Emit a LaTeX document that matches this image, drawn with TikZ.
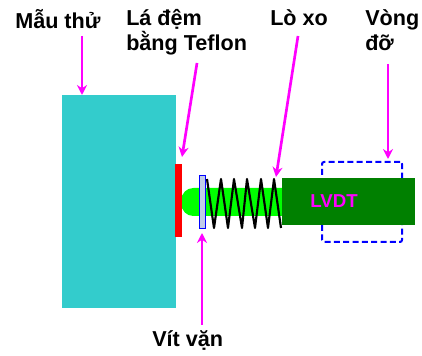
\documentclass[tikz,border=0pt]{standalone}
\usepackage{fontspec}
\setmainfont{Liberation Sans}
\usetikzlibrary{arrows.meta}
\definecolor{mauthu}{HTML}{33CCCC}
\definecolor{lvdtgreen}{HTML}{008000}
\definecolor{vitblue}{HTML}{C0CCE8}
\definecolor{callpink}{HTML}{FF00FF}
\definecolor{nosegreen}{HTML}{00FF00}
\definecolor{ringblue}{HTML}{0000FF}
\definecolor{padred}{HTML}{FF0000}
\tikzset{
  part/.style={inner sep=0pt, outer sep=0pt},
  callout/.style={draw=callpink, line width=2pt, -{Stealth[length=7.5pt,width=7.5pt]}},
  label/.style={font=\bfseries\fontsize{16.2}{18.75}\selectfont, align=left, inner sep=0pt, anchor=north west}
}
\begin{document}
\begin{tikzpicture}[x=0.75pt, y=-0.75pt]
\useasboundingbox (0,0) rectangle (422,356);

\node[part, fill=mauthu, minimum width=85.5pt, minimum height=159.75pt] (block) at (119,201.5) {};
\node[part, fill=nosegreen, rounded corners=9pt, minimum width=85pt, minimum height=21pt] (nose) at (238,202) {};
\node[part, fill=padred, minimum width=5.25pt, minimum height=54.75pt] (pad) at (178.5,200.5) {};
\node[part, draw=ringblue, line width=1pt, fill=vitblue, minimum width=4.5pt, minimum height=40pt] (screw) at (202.5,202) {};

\node[part, draw=ringblue, dash pattern=on 4.5pt off 2.5pt, line width=1.5pt, rounded corners=1.5pt, minimum width=60pt, minimum height=60pt] (ring) at (362,202) {};
\node[part, fill=lvdtgreen, minimum width=99.75pt, minimum height=35.25pt] (lvdt) at (348.5,201.5) {};
\node[part, font=\bfseries\fontsize{14}{16}\selectfont, text=callpink] (lvdtlabel) at (334,201) {LVDT};

% spring
\draw[line width=1.6pt, line join=round] (207,179) -- (214,228) -- (221,179) -- (228,228) -- (234,179) -- (242,228)
  -- (247,179) -- (255,228) -- (261,179) -- (268,228) -- (274,179) -- (281,228);

\node[label] (mau) at (15,9) {Mẫu thử};
\node[label] (dem) at (126,9) {Lá đệm\\bằng Teflon};
\node[label] (lo) at (270,9) {Lò xo};
\node[label] (vong) at (365,9) {Vòng\\đỡ};
\node[label] (vit) at (152,330) {Vít vặn};

\coordinate (maustart) at (82,36);
\coordinate (mautip) at (82,95);
\coordinate (demstart) at (197,63);
\coordinate (demtip) at (182,157);
\coordinate (lostart) at (298,36);
\coordinate (lotip) at (276,177);
\coordinate (vongstart) at (388,64);
\coordinate (vongtip) at (388,159);
\coordinate (vitstart) at (202,325);
\coordinate (vittip) at (202,233);

\draw[callout, line width=1.4pt] (maustart) -- (mautip);
\draw[callout] (demstart) -- (demtip);
\draw[callout] (lostart) -- (lotip);
\draw[callout] (vongstart) -- (vongtip);
\draw[callout] (vitstart) -- (vittip);
\end{tikzpicture}
\end{document}
